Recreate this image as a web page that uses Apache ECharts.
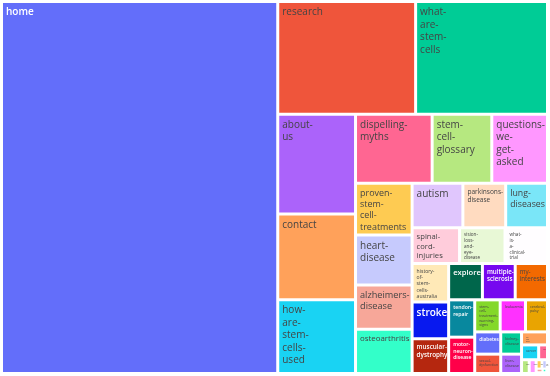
<!DOCTYPE html>
<html>
<head>
<meta charset="utf-8">
<title>页面访问量 treemap</title>
<script src="https://cdn.jsdelivr.net/npm/echarts@6/dist/echarts.min.js"></script>
<style>
  html, body { margin: 0; padding: 0; background: #fff; }
  #chart { width: 550px; height: 376px; }
</style>
</head>
<body>
<div id="chart"></div>
<script>
/* 页面名称（按访问量降序） */
const pages = [
  'home', 'research', 'what-are-stem-cells', 'about-us', 'contact',
  'how-are-stem-cells-used', 'dispelling-myths', 'stem-cell-glossary',
  'questions-we-get-asked', 'proven-stem-cell-treatments', 'heart-disease',
  'alzheimers-disease', 'osteoarthritis', 'autism', 'parkinsons-disease',
  'lung-diseases', 'spinal-cord-injuries', 'vision-loss-and-eye-disease',
  'what-is-a-clinical-trial', 'history-of-stem-cells-australia', 'stroke',
  'muscular-dystrophy', 'explore', 'multiple-sclerosis', 'my-interests',
  'tendon-repair', 'motor-neuron-disease', 'stem-cell-treatment-warning-signs',
  'leukaemia', 'cerebral-palsy', 'diabetes', 'sexual-dysfunction',
  'kidney-disease', 'liver-disease', 'hip-and-knee', 'cancer', 'lupus',
  'crohns', 'eczema', 'copd', 'hair-loss', 'arthritis', 'burns'
]

/* 访问量 */
const views = [
  102061, 15456, 14784, 7700, 6622,
  5698, 5240, 4080,
  3810, 2912, 2800,
  2500, 2480, 2244, 1892,
  1848, 1680, 1610,
  1505, 1404, 1332,
  1260, 1224, 1188, 1170,
  966, 941, 810,
  805, 700, 575, 500,
  460, 400, 336, 252, 130,
  105, 95, 55, 50, 30, 20
]

/* 颜色：基础色 + 提亮 + 加深 */
const baseColors = ['#636EFA', '#EF553B', '#00CC96', '#AB63FA', '#FFA15A', '#19D3F3', '#FF6692', '#B6E880', '#FF97FF', '#FECB52']
const lightColors = ['#C6CAFD', '#F7A799', '#33FFC9', '#E0C6FD', '#FFDBC0', '#7AE6F8', '#FFCCDB', '#E8F8D6', '#FFFDFF', '#FFE9B7']
const darkColors = ['#0819EF', '#B5270F', '#00664B', '#7608EF', '#F36900', '#08889E', '#FF0049', '#84D82A', '#FF31FF', '#E9A401']
const colorway = baseColors.concat(lightColors, darkColors)

const FONT = '"Open Sans", "DejaVu Sans", sans-serif'
const MAX_FONT = 10

// 深色背景用白字，浅色背景用灰字
function textColor(hex) {
  const r = parseInt(hex.slice(1, 3), 16)
  const g = parseInt(hex.slice(3, 5), 16)
  const b = parseInt(hex.slice(5, 7), 16)
  return (r * 299 + g * 587 + b * 114) / 1000 < 128 ? '#ffffff' : '#444444'
}

function splitName(name) {
  const parts = name.split('-')
  return parts.map((p, i) => (i < parts.length - 1 ? p + '-' : p))
}

// 按矩形大小缩放字号
const ctx = document.createElement('canvas').getContext('2d')
function fitFont(name, w, h) {
  const lines = splitName(name)
  ctx.font = MAX_FONT + 'px ' + FONT
  const maxW = Math.max(...lines.map(l => ctx.measureText(l).width))
  const byW = (w - 4) / maxW * MAX_FONT
  const byH = (h - 4) / (lines.length * 1.25)
  return Math.max(1, Math.min(MAX_FONT, byW, byH))
}

function buildData(sizes) {
  return pages.map((name, i) => {
    const color = colorway[i % colorway.length]
    const light = textColor(color) === '#ffffff'
    const item = {
      name: name,
      value: views[i],
      itemStyle: { color: color },
      label: { color: textColor(color), fontWeight: light ? 600 : 'normal' }
    }
    if (sizes && sizes[name]) {
      item.label.fontSize = sizes[name]
      item.label.lineHeight = sizes[name] * 1.25
    }
    return item
  })
}

const chart = echarts.init(document.getElementById('chart'))

const option = {
  animation: false,
  series: [
    {
      type: 'treemap',
      left: 3,
      top: 3,
      width: 543,
      height: 369,
      roam: false,
      nodeClick: false,
      squareRatio: 1,
      visibleMin: 0,
      breadcrumb: { show: false },
      itemStyle: {
        gapWidth: 3,
        borderWidth: 0,
        borderColor: '#ffffff'
      },
      label: {
        show: true,
        position: 'insideTopLeft',
        distance: 0,
        padding: [3, 1, 0, 3],
        fontFamily: FONT,
        fontSize: MAX_FONT,
        lineHeight: MAX_FONT * 1.25,
        overflow: 'none',
        formatter: p => splitName(p.name).join('\n')
      },
      data: buildData(null)
    }
  ]
}
chart.setOption(option)

/* 读取布局后按矩形尺寸设置字号 */
const tree = chart.getModel().getSeriesByIndex(0).getData().tree
const sizes = {}
tree.root.children.forEach(node => {
  const lay = node.getLayout()
  if (lay) sizes[node.name] = fitFont(node.name, lay.width, lay.height)
})
chart.setOption({ series: [{ data: buildData(sizes) }] })
</script>
</body>
</html>
